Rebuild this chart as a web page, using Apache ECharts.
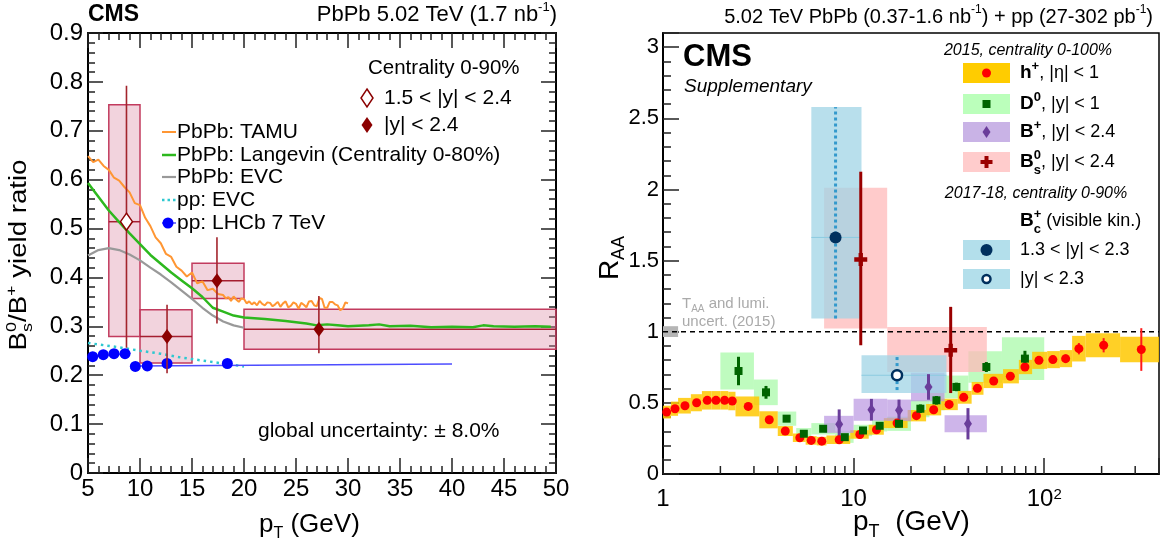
<!DOCTYPE html>
<html><head><meta charset="utf-8">
<script src="https://cdn.jsdelivr.net/npm/echarts@6/dist/echarts.min.js"></script>
<style>html,body{margin:0;padding:0;background:#fff}#c{width:1161px;height:549px}</style>
</head><body><div id="c"></div>
<script>
// ================= LEFT PANEL DATA (Bs0/B+ ratio) =================
const ratioBinLo  = [7, 10, 15, 20];
const ratioBinHi  = [10, 15, 20, 50];
const ratioPt     = [8.7, 12.6, 17.4, 27.2];
const ratioVal    = [0.514, 0.279, 0.393, 0.294];
const ratioSystLo = [0.279, 0.225, 0.357, 0.253];
const ratioSystHi = [0.753, 0.334, 0.429, 0.335];
const ratioStatLo = [0.256, 0.204, 0.306, 0.245];
const ratioStatHi = [0.792, 0.344, 0.482, 0.362];

const tamuCurve = [[5,0.648],[5.5,0.636],[6,0.641],[6.5,0.628],[7,0.62],[7.5,0.604],[8,0.598],[8.5,0.585],[9,0.574],[9.5,0.552],
 [10,0.548],[10.5,0.522],[11,0.505],[11.5,0.482],[12,0.47],[12.5,0.448],[13,0.442],[13.5,0.422],[14,0.414],[14.5,0.402],
 [15,0.41],[15.5,0.388],[16,0.392],[16.5,0.374],[17,0.377],[17.5,0.366],
 [18,0.364],[18.25,0.357],[18.5,0.36],[18.75,0.352],[19,0.361],[19.25,0.355],[19.5,0.35],[19.75,0.357],[20,0.356],[20.25,0.347],
 [20.5,0.351],[20.75,0.345],[21,0.349],[21.25,0.343],[21.5,0.352],[21.75,0.346],[22,0.343],[22.25,0.349],[22.5,0.348],[22.75,0.341],
 [23,0.345],[23.25,0.35],[23.5,0.34],[23.75,0.347],[24,0.351],[24.25,0.339],[24.5,0.342],[24.75,0.349],[25,0.346],[25.25,0.336],
 [25.5,0.348],[25.75,0.344],[26,0.339],[26.25,0.351],[26.5,0.352],[26.75,0.343],[27,0.341],[27.25,0.358],[27.5,0.356],[27.75,0.338],
 [28,0.338],[28.25,0.35],[28.5,0.35],[28.75,0.345],[29,0.343],[29.25,0.333],[29.5,0.336],[29.75,0.349],[30,0.347]];
const langevinCurve = [[5,0.593],[6,0.565],[7,0.537],[8,0.513],[9,0.49],[10,0.468],[11,0.446],[12,0.428],[13,0.41],[14,0.394],
 [15,0.378],[16,0.36],[17,0.338],[18,0.33],[19,0.322],[20,0.318],[22,0.315],[24,0.311],[26,0.306],[27,0.302],[28,0.304],
 [29,0.302],[30,0.3],[32,0.302],[33,0.304],[34,0.3],[36,0.301],[38,0.298],[40,0.299],[42,0.298],[43,0.302],[44,0.3],[46,0.299],[48,0.3],[49.5,0.299]];
const evcPbPbCurve = [[5,0.445],[6,0.456],[7,0.46],[8,0.456],[9,0.447],[10,0.435],[11,0.42],[12,0.406],[13,0.39],[14,0.373],
 [15,0.356],[16,0.338],[17,0.322],[18,0.31],[19,0.302],[20,0.297]];
const evcPPCurve = [[5,0.266],[8,0.257],[10,0.25],[12,0.244],[14,0.236],[16,0.23],[18,0.224],[20,0.218]];
const lhcbPt    = [5.45, 6.47, 7.5, 8.56, 9.55, 10.7, 12.6, 18.4];
const lhcbRatio = [0.238, 0.242, 0.244, 0.244, 0.218, 0.219, 0.224, 0.224];
const lhcbLineA = [[5.2, 0.238], [9.1, 0.245]];
const lhcbLineB = [[9.5, 0.219], [40, 0.223]];

// ================= RIGHT PANEL DATA (RAA) =================
const hEdges = [1.0,1.1,1.2,1.4,1.6,1.8,2.0,2.2,2.4,3.2,4.0,4.8,5.6,6.4,7.2,9.6,12,14.4,19.2,24,28.8,35.2,41.6,48,60.8,73.6,86.4,103.6,120.8,140,165,250,400];
const hX = [1.045,1.156,1.304,1.501,1.707,1.896,2.105,2.309,2.80,3.61,4.38,5.22,5.99,6.81,8.40,10.78,13.18,16.9,21.35,26.3,31.7,37.8,44.6,54.3,66.4,79.2,93.8,111,129.5,152,205,323];
const hY = [0.435,0.459,0.480,0.501,0.518,0.518,0.518,0.513,0.475,0.381,0.302,0.255,0.236,0.231,0.241,0.278,0.311,0.358,0.410,0.452,0.489,0.539,0.602,0.654,0.687,0.752,0.799,0.804,0.811,0.881,0.905,0.875];
const hSyst = [0.045,0.05,0.055,0.06,0.065,0.065,0.065,0.065,0.07,0.06,0.035,0.03,0.03,0.03,0.03,0.03,0.035,0.035,0.04,0.04,0.04,0.045,0.045,0.05,0.05,0.05,0.06,0.06,0.06,0.09,0.085,0.09];
const hStat = [0,0,0,0,0,0,0,0,0,0,0,0,0,0,0,0,0,0,0,0,0,0,0,0,0.01,0.01,0.015,0.02,0.03,0.04,0.05,0.15];

const dEdges = [2,3,4,5,6,8,10,12.5,15,20,25,30,40,60,100];
const dX = [2.49,3.47,4.45,5.48,6.92,8.99,11.2,13.7,17.3,22.4,27.2,34.6,49.7,79.2];
const dY = [0.724,0.574,0.389,0.283,0.318,0.259,0.306,0.339,0.353,0.459,0.518,0.612,0.752,0.811];
const dSyst = [0.13,0.09,0.05,0.04,0.04,0.04,0.04,0.04,0.05,0.06,0.07,0.08,0.11,0.15];
const dStat = [0.1,0.045,0.02,0.02,0.02,0.02,0.02,0.025,0.025,0.03,0.03,0.03,0.035,0.055];

const bEdges = [7,10,15,20,30,50];
const bX = [8.4,12.4,17.3,24.7,39.8];
const bY = [0.349,0.452,0.448,0.612,0.353];
const bSyst = [0.06,0.077,0.075,0.1,0.06];
const bStat = [0.105,0.076,0.075,0.09,0.11];

const sEdges = [7,15,50];
const sX = [10.9,32.3];
const sY = [1.508,0.870];
const sSystLo = [1.022,0.717];
const sSystHi = [2.013,1.034];
const sStatLo = [0.905,0.569];
const sStatHi = [2.125,1.175];

const cBinLo = [6, 11];
const cBinHi = [11, 30.7];
const cX = [8.04, 16.9];
const cY = [1.663, 0.694];
const cSystLo = [1.093, 0.569];
const cSystHi = [2.579, 0.834];
const cStatLo = [1.093, 0.59];
const cStatHi = [2.579, 0.834];

const lumiBox = [[1, 1.2, 0.963, 1.039, 1]];
const unityLine = [[1, 1], [400, 1]];
const logMinorTicks = [2,3,4,5,6,7,8,9,20,30,40,50,60,70,80,90,200,300];

// ================= helpers =================
const FF = '"Liberation Sans", Arial, Helvetica, sans-serif';
const mctx = document.createElement('canvas').getContext('2d');
function tw(t, fs, fw, fst) { mctx.font = (fst||'normal') + ' ' + (fw||'normal') + ' ' + fs + 'px ' + FF; return mctx.measureText(t).width; }
function mtext(x, y, parts, o) {
  o = o || {};
  let cx = 0, prevX = 0; const items = [];
  parts.forEach(function (p) {
    const t = p[0], fs = p[1], dy = p[2], s = p[3] || {};
    const w = tw(t, fs, s.fw, s.fst);
    let px;
    if (s.stack) { px = prevX; cx = Math.max(cx, prevX + w); } else { px = cx; cx += w; }
    items.push({type:'text', x:px, y:dy, style:{text:t, fontSize:fs, fontFamily:FF, fontWeight:s.fw||'normal', fontStyle:s.fst||'normal', fill:s.fill||o.fill||'#000', align:'left', verticalAlign:'middle'}});
    prevX = px;
  });
  const shift = o.align === 'center' ? -cx/2 : (o.align === 'right' ? -cx : 0);
  items.forEach(function (it) { it.x += shift; });
  return {type:'group', x:x, y:y, rotation:o.rot||0, scaleX:o.sx||1, scaleY:1, children:items, z:100};
}
function boxItem(fill, stroke, lw, mid) {
  return function (params, api) {
    const a = api.coord([api.value(0), api.value(3)]);
    const b = api.coord([api.value(1), api.value(2)]);
    const st = {fill: fill};
    if (stroke) { st.stroke = stroke; st.lineWidth = lw; }
    const ch = [{type:'rect', shape:{x:a[0], y:a[1], width:b[0]-a[0], height:b[1]-a[1]}, style:st}];
    if (mid) {
      const m0 = api.coord([api.value(0), api.value(4)]), m1 = api.coord([api.value(1), api.value(4)]);
      ch.push({type:'line', shape:{x1:m0[0], y1:m0[1], x2:m1[0], y2:m1[1]}, style:{stroke:mid[0], lineWidth:mid[1]}});
    }
    return {type:'group', children:ch};
  };
}
function errItem(color, w, dash) {
  return function (params, api) {
    const a = api.coord([api.value(0), api.value(1)]), b = api.coord([api.value(0), api.value(2)]);
    const st = {stroke:color, lineWidth:w};
    if (dash) st.lineDash = dash;
    return {type:'line', shape:{x1:a[0], y1:a[1], x2:b[0], y2:b[1]}, style:st};
  };
}
function zip(a, b) { return a.map(function (v, i) { return [v, b[i]]; }); }
function edgeBoxes(edges, y, syst) { return y.map(function (v, i) { return [edges[i], edges[i+1], v - syst[i], v + syst[i], v]; }); }
function rangeBoxes(lo, hi, ylo, yhi, y) { return y.map(function (v, i) { return [lo[i], hi[i], ylo[i], yhi[i], v]; }); }
function errs(x, y, e) { const out = []; x.forEach(function (v, i) { if (e[i] > 0) out.push([v, y[i]-e[i], y[i]+e[i]]); }); return out; }
function errsLH(x, lo, hi) { return x.map(function (v, i) { return [v, lo[i], hi[i]]; }); }

const L = {xAxisIndex:0, yAxisIndex:0};
const R = {xAxisIndex:2, yAxisIndex:2};
function S(base, o) { return Object.assign({}, base, o); }

const tickStyle = {color:'#222', width:1.5};
function leftX(pos, labels) {
  return {gridIndex:0, type:'value', min:5, max:50, interval:5, position:pos,
    axisLine:{show:true, onZero:false, lineStyle:{color:'#000', width:2}},
    axisTick:{show:true, inside:true, length:15, lineStyle:tickStyle},
    minorTick:{show:true, splitNumber:5, length:7, lineStyle:tickStyle},
    splitLine:{show:false}, minorSplitLine:{show:false},
    axisLabel:{show:labels, fontSize:24, fontFamily:FF, color:'#000', margin:4}};
}
function leftY(pos, labels) {
  return {gridIndex:0, type:'value', min:0, max:0.9, interval:0.1, position:pos,
    axisLine:{show:true, onZero:false, lineStyle:{color:'#000', width:2}},
    axisTick:{show:true, inside:true, length:15, lineStyle:tickStyle},
    minorTick:{show:true, splitNumber:5, length:7, lineStyle:tickStyle},
    splitLine:{show:false}, minorSplitLine:{show:false},
    axisLabel:{show:labels, fontSize:24, fontFamily:FF, color:'#000', margin:5}};
}

const option = {
  animation:false,
  backgroundColor:'#fff',
  grid:[
    {left:88, top:33, width:468, height:440, show:false, outerBoundsMode:'none'},
    {left:663, top:33, width:496, height:441, show:true, borderColor:'#000', borderWidth:1.5, backgroundColor:'transparent', outerBoundsMode:'none'}
  ],
  xAxis:[
    leftX('bottom', true), leftX('top', false),
    {gridIndex:1, type:'log', logBase:10, min:1, max:400, position:'bottom',
      axisLine:{show:true, onZero:false, lineStyle:{color:'#000', width:2}},
      axisTick:{show:true, inside:true, length:16, lineStyle:{color:'#222', width:1.5}},
      minorTick:{show:false}, splitLine:{show:false},
      axisLabel:{fontSize:24, fontFamily:FF, color:'#000', margin:13,
        formatter:function (v) { const r = Math.round(v); if (r === 1) return '1'; if (r === 10) return '10'; if (r === 100) return '10{sup|2}'; return ''; },
        rich:{sup:{fontSize:15, fontFamily:FF, color:'#000', verticalAlign:'top', lineHeight:12}}}}
  ],
  yAxis:[
    leftY('left', true), leftY('right', false),
    {gridIndex:1, type:'value', min:0, max:3.1, interval:0.5, position:'left',
      axisLine:{show:true, onZero:false, lineStyle:{color:'#000', width:2}},
      axisTick:{show:true, inside:true, length:16, lineStyle:{color:'#222', width:1.5}},
      minorTick:{show:true, splitNumber:5, length:8, lineStyle:{color:'#222', width:1.5}},
      splitLine:{show:false}, minorSplitLine:{show:false},
      axisLabel:{fontSize:22, fontFamily:FF, color:'#000', margin:4, showMaxLabel:false}}
  ],
  series:[
    // ---------- left ----------
    S(L, {type:'custom', z:2, silent:true, data:rangeBoxes(ratioBinLo, ratioBinHi, ratioSystLo, ratioSystHi, ratioVal),
      renderItem:boxItem('rgba(222,140,165,0.38)', '#c23b5e', 1.5, ['#a51e30', 1.5])}),
    S(L, {type:'line', z:3, data:evcPbPbCurve, symbol:'none', lineStyle:{color:'#999999', width:2.2}}),
    S(L, {type:'line', z:3, data:tamuCurve, symbol:'none', lineStyle:{color:'#ff9633', width:2}}),
    S(L, {type:'line', z:3, data:langevinCurve, symbol:'none', lineStyle:{color:'#2db81e', width:2.5}}),
    S(L, {type:'line', z:3, data:evcPPCurve, symbol:'none', lineStyle:{color:'#2ec8d0', width:2.5, type:[2.5,4]}}),
    S(L, {type:'line', z:3, data:lhcbLineA, symbol:'none', lineStyle:{color:'#4d4dff', width:1.5}}),
    S(L, {type:'line', z:3, data:lhcbLineB, symbol:'none', lineStyle:{color:'#4d4dff', width:1.5}}),
    S(L, {type:'scatter', z:4, data:zip(lhcbPt, lhcbRatio), symbol:'circle', symbolSize:11, itemStyle:{color:'#0000ff', opacity:1}}),
    S(L, {type:'custom', z:5, silent:true, data:errsLH(ratioPt, ratioStatLo, ratioStatHi), renderItem:errItem('#a3242c', 1.6)}),
    S(L, {type:'scatter', z:6, data:[[ratioPt[0], ratioVal[0]]], symbol:'diamond', symbolSize:[12,17], itemStyle:{color:'#fff', borderColor:'#8b0000', borderWidth:1.5, opacity:1}}),
    S(L, {type:'scatter', z:6, data:zip(ratioPt.slice(1), ratioVal.slice(1)), symbol:'diamond', symbolSize:[11,15], itemStyle:{color:'#8b0000', opacity:1}}),
    // ---------- right ----------
    S(R, {type:'custom', z:2, silent:true, data:lumiBox, renderItem:boxItem('#b5b5b5')}),
    S(R, {type:'custom', z:2, silent:true, data:edgeBoxes(dEdges, dY, dSyst), renderItem:boxItem('rgba(170,250,170,0.75)')}),
    S(R, {type:'custom', z:2, silent:true, data:edgeBoxes(hEdges, hY, hSyst), renderItem:boxItem('rgba(255,200,0,0.85)')}),
    S(R, {type:'custom', z:2, silent:true, data:edgeBoxes(bEdges, bY, bSyst), renderItem:boxItem('rgba(185,150,225,0.7)')}),
    S(R, {type:'custom', z:2, silent:true, data:rangeBoxes(sEdges.slice(0,2), sEdges.slice(1), sSystLo, sSystHi, sY), renderItem:boxItem('rgba(255,185,185,0.75)')}),
    S(R, {type:'custom', z:2, silent:true, data:rangeBoxes(cBinLo, cBinHi, cSystLo, cSystHi, cY), renderItem:boxItem('rgba(160,212,230,0.75)', null, 0, ['#8ccbe0', 1])}),
    S(R, {type:'line', z:3, data:unityLine, symbol:'none', lineStyle:{color:'#000', width:1.5, type:[5,4]}}),
    S(R, {type:'custom', z:4, silent:true, data:errs(hX, hY, hStat), renderItem:errItem('#ff1a1a', 2)}),
    S(R, {type:'custom', z:4, silent:true, data:errs(dX, dY, dStat), renderItem:errItem('#006400', 3)}),
    S(R, {type:'custom', z:4, silent:true, data:errs(bX, bY, bStat), renderItem:errItem('#6a3d9a', 3)}),
    S(R, {type:'custom', z:4, silent:true, data:errsLH(sX, sStatLo, sStatHi), renderItem:errItem('#9a0000', 3)}),
    S(R, {type:'custom', z:4, silent:true, data:errsLH(cX, cStatLo, cStatHi), renderItem:errItem('#3399cc', 3, [3,3])}),
    S(R, {type:'scatter', z:5, data:zip(hX, hY), symbol:'circle', symbolSize:9, itemStyle:{color:'#ff0000', opacity:1}}),
    S(R, {type:'scatter', z:5, data:zip(dX, dY), symbol:'rect', symbolSize:8, itemStyle:{color:'#006400', opacity:1}}),
    S(R, {type:'scatter', z:5, data:zip(bX, bY), symbol:'diamond', symbolSize:[8,12], itemStyle:{color:'#6a3d9a', opacity:1}}),
    S(R, {type:'scatter', z:5, data:zip(sX, sY), symbol:'path://M4,0H8V4H12V8H8V12H4V8H0V4H4Z', symbolSize:13, itemStyle:{color:'#9a0000', opacity:1}}),
    S(R, {type:'scatter', z:5, data:[[cX[0], cY[0]]], symbol:'circle', symbolSize:12, itemStyle:{color:'#00305e', opacity:1}}),
    S(R, {type:'scatter', z:5, data:[[cX[1], cY[1]]], symbol:'circle', symbolSize:10, itemStyle:{color:'#fff', borderColor:'#00305e', borderWidth:2.5, opacity:1}}),
    S(R, {type:'custom', z:6, silent:true, data:logMinorTicks.map(function (v) { return [v, 0]; }),
      renderItem:function (params, api) { const p = api.coord([api.value(0), 0]); return {type:'line', shape:{x1:p[0], y1:p[1], x2:p[0], y2:p[1]-8}, style:{stroke:'#222', lineWidth:1.5}}; }})
  ],
  graphic:[
    // left header
    mtext(88, 15, [['CMS',23,0,{fw:'bold'}]]),
    mtext(557, 15, [['PbPb 5.02 TeV (1.7 nb',22,0],['-1',13,-8],[')',22,0]], {align:'right'}),
    mtext(368, 68, [['Centrality 0-90%',20.5,0]]),
    {type:'polygon', z:100, shape:{points:[[367,89],[373,98],[367,107],[361,98]]}, style:{fill:'#fff', stroke:'#8b0000', lineWidth:1.5}},
    mtext(384, 98, [['1.5 < |y| < 2.4',21,0]]),
    {type:'polygon', z:100, shape:{points:[[367,117],[372.5,125],[367,133],[361.5,125]]}, style:{fill:'#8b0000'}},
    mtext(384, 125, [['|y| < 2.4',21,0]]),
    {type:'line', z:100, shape:{x1:162, y1:132, x2:176, y2:132}, style:{stroke:'#ff9633', lineWidth:2}},
    mtext(177, 132, [['PbPb: TAMU',21,0]]),
    {type:'line', z:100, shape:{x1:162, y1:155, x2:176, y2:155}, style:{stroke:'#2db81e', lineWidth:2.5}},
    mtext(177, 155, [['PbPb: Langevin (Centrality 0-80%)',21,0]]),
    {type:'line', z:100, shape:{x1:162, y1:177, x2:176, y2:177}, style:{stroke:'#999999', lineWidth:2.2}},
    mtext(177, 177, [['PbPb: EVC',21,0]]),
    {type:'line', z:100, shape:{x1:162, y1:200, x2:176, y2:200}, style:{stroke:'#2ec8d0', lineWidth:2.5, lineDash:[2.5,3]}},
    mtext(177, 200, [['pp: EVC',21,0]]),
    {type:'line', z:100, shape:{x1:162, y1:223, x2:176, y2:223}, style:{stroke:'#4d4dff', lineWidth:1.5}},
    {type:'circle', z:100, shape:{cx:168, cy:223, r:5.5}, style:{fill:'#0000ff'}},
    mtext(177, 223, [['pp: LHCb 7 TeV',21,0]]),
    mtext(258, 431, [['global uncertainty: \u00b1 8.0%',21,0]]),
    mtext(20, 255, [['B',23,0],['0',15,-8],['s',15,8,{stack:true}],['/B',23,0],['+',15,-8],[' yield ratio',23,0]], {align:'center', rot:Math.PI/2, sx:1.2}),
    mtext(259, 525, [['p',26,0],['T',16,9],[' (GeV)',26,0]]),
    // right header
    mtext(1153, 17, [['5.02 TeV PbPb (0.37-1.6 nb',20,0],['-1',12,-7],[') + pp (27-302 pb',20,0],['-1',12,-7],[')',20,0]], {align:'right'}),
    mtext(683, 57, [['CMS',31,0,{fw:'bold'}]]),
    mtext(684, 87, [['Supplementary',19,0,{fst:'italic'}]]),
    mtext(1028, 51, [['2015, centrality 0-100%',16,0,{fst:'italic'}]], {align:'center'}),
    {type:'rect', z:100, shape:{x:963, y:63, width:47, height:20}, style:{fill:'#ffcc00'}},
    {type:'circle', z:101, shape:{cx:986.5, cy:73, r:4.5}, style:{fill:'#ff0000'}},
    mtext(1020, 73, [['h',19,0,{fw:'bold'}],['+',13,-7,{fw:'bold'}],[', |\u03b7| < 1',18,0]]),
    {type:'rect', z:100, shape:{x:963, y:94, width:47, height:20}, style:{fill:'#bbffbb'}},
    {type:'rect', z:101, shape:{x:982.5, y:100, width:8, height:8}, style:{fill:'#006400'}},
    mtext(1020, 104, [['D',19,0,{fw:'bold'}],['0',13,-7,{fw:'bold'}],[', |y| < 1',18,0]]),
    {type:'rect', z:100, shape:{x:963, y:122, width:47, height:20}, style:{fill:'#c9b3e6'}},
    {type:'polygon', z:101, shape:{points:[[986.5,126],[990.5,132],[986.5,138],[982.5,132]]}, style:{fill:'#6a3d9a'}},
    mtext(1020, 132, [['B',19,0,{fw:'bold'}],['+',13,-7,{fw:'bold'}],[', |y| < 2.4',18,0]]),
    {type:'rect', z:100, shape:{x:963, y:152, width:47, height:20}, style:{fill:'#ffcccc'}},
    {type:'polygon', z:101, shape:{points:[[984.5,156],[988.5,156],[988.5,160],[992.5,160],[992.5,164],[988.5,164],[988.5,168],[984.5,168],[984.5,164],[980.5,164],[980.5,160],[984.5,160]]}, style:{fill:'#9a0000'}},
    mtext(1020, 162, [['B',19,0,{fw:'bold'}],['0',13,-7,{fw:'bold'}],['s',13,8,{fw:'bold',stack:true}],[', |y| < 2.4',18,0]]),
    mtext(1036, 194, [['2017-18, centrality 0-90%',16,0,{fst:'italic'}]], {align:'center'}),
    mtext(1020, 221, [['B',19,0,{fw:'bold'}],['+',13,-7,{fw:'bold'}],['c',13,8,{fw:'bold',stack:true}],[' (visible kin.)',18,0]]),
    {type:'rect', z:100, shape:{x:963, y:240, width:47, height:20}, style:{fill:'#b3dfeb'}},
    {type:'circle', z:101, shape:{cx:986.5, cy:250, r:6}, style:{fill:'#00305e'}},
    mtext(1020, 250, [['1.3 < |y| < 2.3',18,0]]),
    {type:'rect', z:100, shape:{x:963, y:269, width:47, height:20}, style:{fill:'#b3dfeb'}},
    {type:'circle', z:101, shape:{cx:986.5, cy:279, r:4}, style:{fill:'#fff', stroke:'#00305e', lineWidth:2.5}},
    mtext(1020, 279, [['|y| < 2.3',18,0]]),
    mtext(682, 304, [['T',15,0],['AA',10,5],[' and lumi.',15,0]], {fill:'#aaaaaa'}),
    mtext(682, 322, [['uncert. (2015)',15,0]], {fill:'#aaaaaa'}),
    mtext(610, 258, [['R',28,0],['AA',18,9]], {align:'center', rot:Math.PI/2}),
    mtext(853, 522, [['p',28,0],['T',18,10],['  (GeV)',28,0]])
  ]
};
const chart = echarts.init(document.getElementById('c'), null, {renderer:'canvas'});
chart.setOption(option);
</script>
</body></html>
